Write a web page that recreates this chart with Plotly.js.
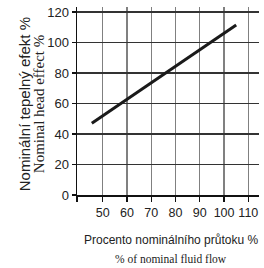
<!DOCTYPE html>
<html>
<head>
<meta charset="utf-8">
<script src="https://cdn.plot.ly/plotly-3.0.1.min.js"></script>
<style>html,body{margin:0;padding:0;background:#fff;}#chart{width:264px;height:268px;}</style>
</head>
<body>
<div id="chart"></div>
<script>
// Data
const flowPercent = [45.5, 105];
const heatEffect = [47, 111.5];
const xTickVals = [39.4, 50, 60, 70, 80, 90, 100, 110];
const xTickText = ['', '50', '60', '70', '80', '90', '100', '110'];
const yTickVals = [0, 20, 40, 60, 80, 100, 120];
const xTitleCz = 'Procento nominálního průtoku %';
const xTitleEn = '% of nominal fluid flow';
const yTitleCz = 'Nominální tepelný efekt %';
const yTitleEn = 'Nominal head effect %';

const sans = 'Liberation Sans, Arial, sans-serif';
const serif = 'Liberation Serif, Times New Roman, serif';

const trace = {
  x: flowPercent, y: heatEffect, mode: 'lines', type: 'scatter',
  line: {color: '#1a1a1a', width: 3}, hoverinfo: 'skip'
};

const layout = {
  width: 264, height: 268,
  margin: {l: 77, r: 5, t: 7, b: 73, pad: 0},
  paper_bgcolor: '#fff', plot_bgcolor: '#fff',
  showlegend: false,
  font: {family: sans, size: 12.5, color: '#222'},
  xaxis: {
    range: [39.4, 114.4], tickmode: 'array', tickvals: xTickVals, ticktext: xTickText,
    tickangle: 0,
    showgrid: true, gridcolor: '#808080', gridwidth: 1.3,
    showline: true, linecolor: '#111', linewidth: 1.5,
    ticks: 'outside', ticklen: 5, tickcolor: '#111', tickwidth: 1.3,
    zeroline: false, fixedrange: true,
    tickfont: {family: sans, size: 12.5, color: '#222'}
  },
  yaxis: {
    range: [0, 123.3], tickmode: 'array', tickvals: yTickVals,
    showgrid: true, gridcolor: '#333', gridwidth: 1.2,
    showline: true, linecolor: '#111', linewidth: 1.5,
    ticks: 'outside', ticklen: 4, tickcolor: '#111', tickwidth: 1.3,
    zeroline: false, fixedrange: true,
    tickfont: {family: sans, size: 13, color: '#222'}
  },
  annotations: [
    {text: xTitleCz, xref: 'paper', yref: 'paper', x: 0.515, y: -0.237, xanchor: 'center', yanchor: 'middle',
     showarrow: false, font: {family: sans, size: 12, color: '#222'}},
    {text: xTitleEn, xref: 'paper', yref: 'paper', x: 0.515, y: -0.343, xanchor: 'center', yanchor: 'middle',
     showarrow: false, font: {family: serif, size: 11.5, color: '#222'}},
    {text: yTitleCz, xref: 'paper', yref: 'paper', x: -0.29, y: 0.484, xanchor: 'center', yanchor: 'middle',
     textangle: -90, showarrow: false, font: {family: sans, size: 15, color: '#222'}},
    {text: yTitleEn, xref: 'paper', yref: 'paper', x: -0.208, y: 0.484, xanchor: 'center', yanchor: 'middle',
     textangle: -90, showarrow: false, font: {family: serif, size: 15, color: '#222'}}
  ]
};

Plotly.newPlot('chart', [trace], layout, {displayModeBar: false, staticPlot: true});
</script>
</body>
</html>
